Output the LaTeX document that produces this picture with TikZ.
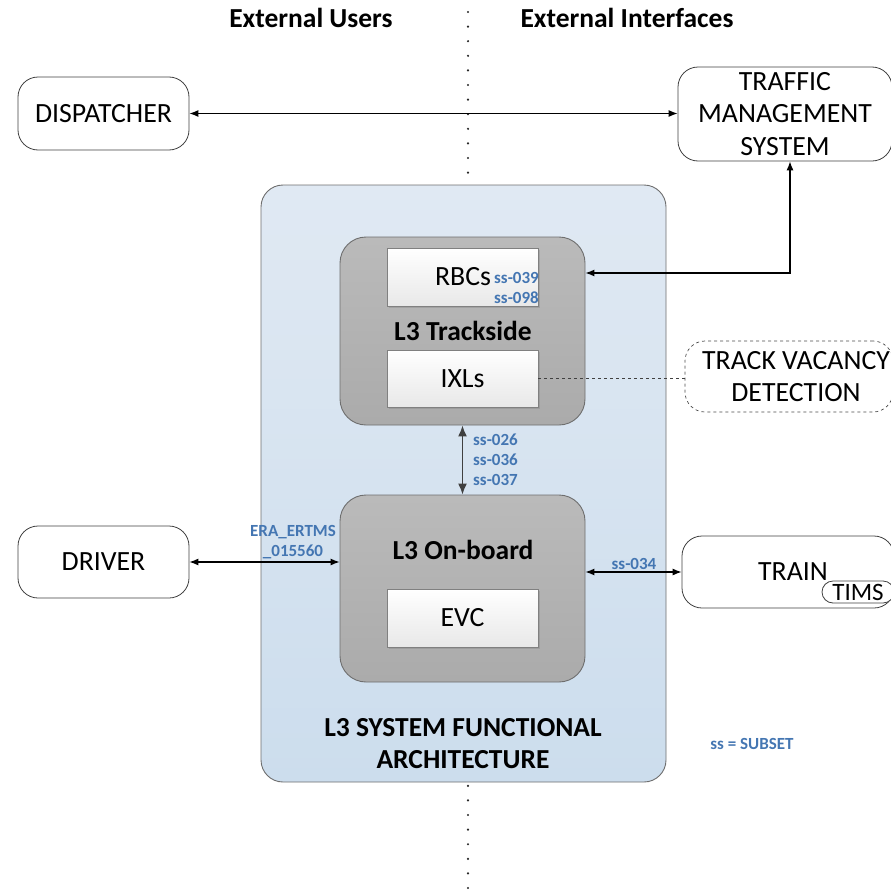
\documentclass[tikz,border=0pt]{standalone}
\usepackage{fontspec}
\setmainfont{Carlito}
\usetikzlibrary{arrows.meta,shadows}
\definecolor{ssblue}{RGB}{68,118,178}
\definecolor{bigtop}{RGB}{224,233,243}
\definecolor{bigbot}{RGB}{204,221,237}
\definecolor{edgegray}{RGB}{110,110,110}
\begin{document}
\begin{tikzpicture}[x=1pt,y=-1pt,
  main/.style={font=\fontsize{27.8}{32.5}\selectfont},
  bmain/.style={font=\bfseries\fontsize{27.5}{32}\selectfont},
  lbl/.style={font=\bfseries\fontsize{17}{20}\selectfont, text=ssblue, inner sep=0, align=center},
  ext/.style={draw=black!75, line width=0.8pt, rounded corners=20pt, fill=white, inner sep=0, align=center, main},
  bigbox/.style={draw=edgegray, line width=0.9pt, rounded corners=22pt, top color=bigtop, bottom color=bigbot, inner sep=0},
  graybox/.style={draw=edgegray, line width=0.9pt, rounded corners=26pt, top color=black!27, bottom color=black!33, inner sep=0},
  inner/.style={draw=black!50, line width=0.7pt, top color=white, bottom color=black!9, inner sep=0, align=center, main,
    drop shadow={shadow xshift=1.5pt, shadow yshift=-1.5pt, opacity=0.35}},
  arr/.style={{Latex[length=9pt,width=7pt]}-{Latex[length=9pt,width=7pt]}, line width=1.1pt, black},
  garr/.style={{Latex[length=11pt,width=9pt]}-{Latex[length=11pt,width=9pt]}, line width=1.5pt, black!75},
]
\useasboundingbox (0,0) rectangle (891,894);
% dotted separator
\coordinate (dtop) at (468,12);
\coordinate (dbot) at (468,892);
\draw[line width=2.4pt, line cap=round, dash pattern=on 0pt off 14.6pt, black!85] (dtop) -- (dbot);
% headings
\node[bmain] (hu) at (311,18) {External Users};
\node[bmain] (hi) at (627,18) {External Interfaces};
% big box
\node[bigbox, minimum width=405pt, minimum height=597pt] (big) at (463.5,483.5) {};
% external boxes
\node[ext, minimum width=171pt, minimum height=73pt] (disp) at (103.5,113.5) {DISPATCHER};
\node[ext, minimum width=214pt, minimum height=94pt] (tms) at (785,114) {TRAFFIC\\MANAGEMENT\\SYSTEM};
\node[ext, minimum width=171pt, minimum height=72pt] (drv) at (103.5,562) {DRIVER};
\node[ext, minimum width=212pt, minimum height=72pt] (train) at (788,572) {};
\node[main] (traint) at (793,572) {TRAIN};
\node[draw=black!75, line width=0.8pt, rounded corners=11pt, fill=white, minimum width=72pt, minimum height=22pt, inner sep=0, font=\fontsize{25}{25}\selectfont] (tims) at (858,592) {TIMS};
\node[ext, dashed, draw=black!70, line width=0.7pt, minimum width=208pt, minimum height=71pt] (tvd) at (789,376.5) {};
\node[main, align=center] (tvdt) at (796,376.5) {TRACK VACANCY\\DETECTION};
% trackside
\node[graybox, minimum width=245pt, minimum height=188pt] (track) at (462.5,331) {};
\node[inner, minimum width=151pt, minimum height=58pt] (rbc) at (462.5,277) {};
\node[main] (rbct) at (463,277) {RBCs};
\node[lbl, align=right, anchor=east] (rbcl) at (539,288) {ss-039\\ss-098};
\node[bmain] (trackt) at (463,331) {L3 Trackside};
\node[inner, minimum width=151pt, minimum height=57pt] (ixl) at (462.5,378.5) {IXLs};
% on-board
\node[graybox, minimum width=245pt, minimum height=187pt] (onb) at (462.5,588.5) {};
\node[bmain] (onbt) at (463,550) {L3 On-board};
\node[inner, minimum width=151pt, minimum height=58pt] (evc) at (462.5,618) {EVC};
% architecture title
\node[bmain, align=center] (arch) at (463,744) {L3 SYSTEM FUNCTIONAL\\ARCHITECTURE};
\node[lbl] (subset) at (752,744) {ss = SUBSET};
% connectors
\draw[arr] (disp.east) -- (disp.east -| tms.west);
\draw[arr] ([xshift=5pt]tms.south) |- ([yshift=4pt]rbc.east -| track.east);
\draw[dashed, line width=0.6pt, black!75] (ixl.east) -- (ixl.east -| tvd.west);
\draw[garr] (track.south) -- (onb.north);
\node[lbl, anchor=west] (l1) at (473,440) {ss-026};
\node[lbl, anchor=west] (l2) at (473,460) {ss-036};
\node[lbl, anchor=west] (l3) at (473,480) {ss-037};
\draw[arr] (drv.east) -- (drv.east -| onb.west);
\node[lbl] (eral) at (293,542) {ERA\_ERTMS\\\_015560};
\draw[arr] (train.west) -- (train.west -| onb.east);
\node[lbl] (trl) at (634,564) {ss-034};
\end{tikzpicture}
\end{document}
